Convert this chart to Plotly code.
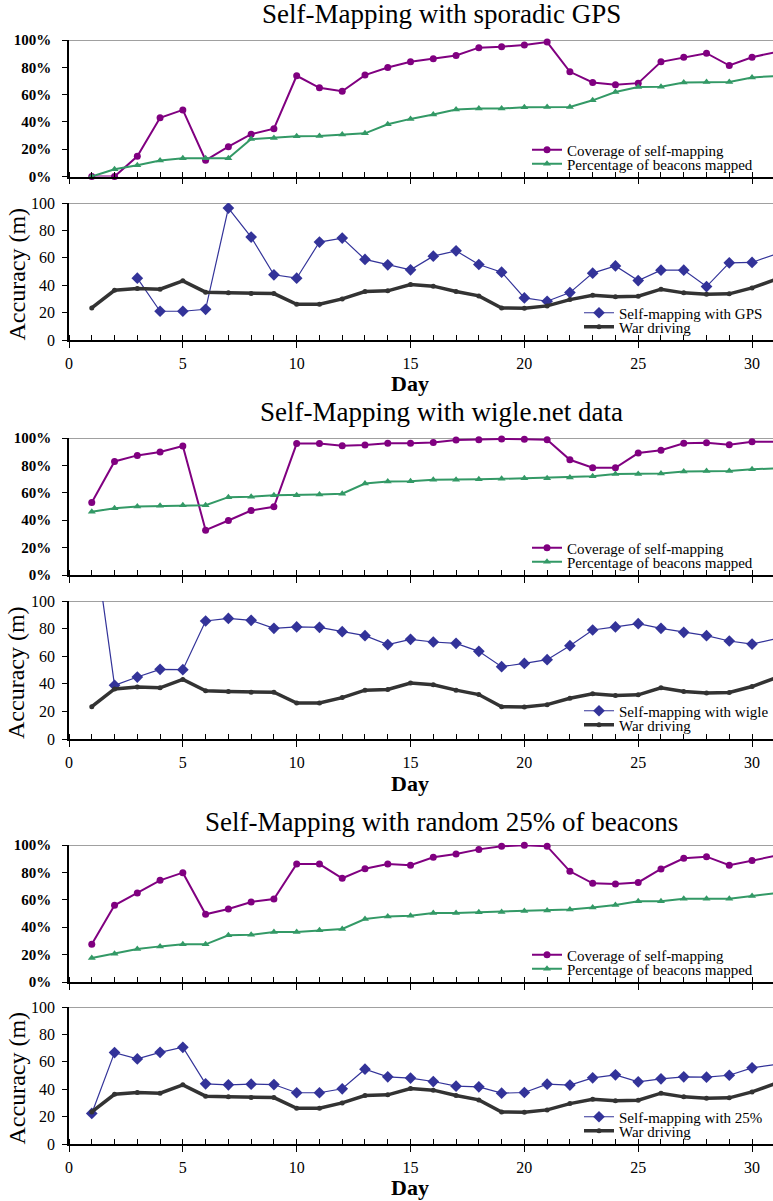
import plotly.graph_objects as go

days = list(range(1, 32))

gps_coverage = [0, 0, 14.8, 43, 48.8, 11.9, 21.8, 31, 35, 73.8, 65, 62.4, 74.3, 79.9, 84, 86.2,
                88.6, 94.4, 95.1, 96.4, 98.5, 76.7, 68.9, 67.2, 68.4, 84, 87.4, 90.3, 81.3, 87.4, 91]
gps_beacons = [0, 5.3, 8.3, 11.7, 13.3, 13.3, 13.3, 27.4, 28.2, 29.4, 29.6, 30.8, 31.6, 38.3, 42.2,
               45.4, 49, 49.8, 49.8, 50.7, 51, 51, 55.8, 61.9, 65.5, 65.8, 68.9, 69.2, 69.2, 72.6, 73.6]
gps_accuracy = [None, None, 45.1, 21, 21, 22.4, 96.3, 75.1, 47.6, 45.1, 71.5, 74.4, 58.8, 54.9, 51.2,
                61.2, 65.1, 55.1, 49.5, 30.7, 28.3, 34.6, 48.8, 54.1, 43.4, 51, 51, 39, 56.3, 56.6, 62.5]
war_driving = [23.4, 36.3, 37.6, 37.1, 43.2, 34.9, 34.4, 33.9, 33.9, 26.1, 26.1, 30, 35.4, 35.9, 40.5,
               39.3, 35.4, 32.2, 23.4, 23.2, 24.9, 29.5, 32.7, 31.5, 32, 37.1, 34.4, 33.4, 33.7, 38, 44]

wigle_coverage = [52.9, 82.9, 87.3, 89.8, 94.1, 32.7, 39.8, 47.1, 49.8, 95.9, 95.9, 94.4, 94.9, 96.1,
                  96.1, 96.8, 98.5, 98.8, 99.3, 99, 98.8, 84.1, 78.3, 78.3, 89, 91, 96.1, 96.6, 95.1, 97.3, 97.3]
wigle_beacons = [46.1, 48.8, 50, 50.5, 51, 51, 56.8, 57.1, 58.3, 58.3, 58.8, 59.3, 66.8, 68.3, 68.5,
                 69.5, 69.5, 69.8, 70.2, 70.7, 70.7, 71.2, 72, 73.7, 73.7, 74.1, 75.6, 75.9, 75.9, 77.1, 77.8]
wigle_accuracy = [158, 38.9, 44.9, 50.5, 50.2, 85.5, 87.4, 86, 80.2, 81.2, 80.9, 77.8, 74.9, 68.4, 72.2,
                  70.3, 69.3, 63.5, 52.4, 54.8, 57.5, 67.6, 79, 81.2, 83.6, 80.2, 77.3, 74.9, 71, 68.8, 72.5]

r25_coverage = [27.5, 56, 65, 74.2, 79.8, 49.4, 53.3, 58.4, 60.6, 86.1, 86.1, 75.7, 82.7, 86.1, 85.2,
                91, 93.4, 96.8, 99, 99.8, 99, 80.8, 72, 71.5, 72.7, 82.5, 90.3, 91.5, 85.2, 88.6, 92]
r25_beacons = [17.5, 20.7, 24.1, 26, 27.5, 27.5, 34.1, 34.5, 36.5, 36.5, 37.7, 38.7, 46, 47.9, 48.4,
               50.4, 50.4, 50.9, 51.1, 51.8, 52.1, 53, 54.3, 56.2, 58.9, 58.9, 60.8, 60.8, 60.8, 62.8, 64.7]
r25_accuracy = [22.3, 66.7, 62.1, 66.9, 70.6, 43.9, 43.2, 43.7, 43.4, 37.4, 37.4, 40.3, 54.6, 49, 48.1,
                45.6, 42.2, 41.7, 37.1, 37.6, 43.7, 43, 48.3, 50.5, 45.4, 47.6, 49, 48.8, 50.2, 55.6, 58]

titles = ["Self-Mapping with sporadic GPS", "Self-Mapping with wigle.net data",
          "Self-Mapping with random 25% of beacons"]
self_names = ["Self-mapping with GPS", "Self-mapping with wigle", "Self-mapping with 25%"]
coverages = [gps_coverage, wigle_coverage, r25_coverage]
beacons = [gps_beacons, wigle_beacons, r25_beacons]
accuracies = [gps_accuracy, wigle_accuracy, r25_accuracy]

x_ticks = [0, 5, 10, 15, 20, 25, 30]
y_ticks = [0, 20, 40, 60, 80, 100]
pct_labels = ["0%", "20%", "40%", "60%", "80%", "100%"]
acc_labels = ["0", "20", "40", "60", "80", "100"]

W, H = 773, 1201
FONT = "Liberation Serif, Times New Roman, serif"
PURPLE, GREEN, BLUE, DARK = "#800080", "#339966", "#333399", "#333333"

# window-pixel geometry (top, bottom) of the six plot areas
panels_px = [(40, 176.5), (203, 340), (438, 575), (601, 739), (845, 982), (1007, 1144)]
title_y_px = [14, 412, 822]
X_LEFT = 69


def fx(p):
    return p / W


def fy(p):
    return 1 - p / H


fig = go.Figure()
layout = dict(
    width=W, height=H, margin=dict(l=0, r=0, t=0, b=0, autoexpand=False),
    paper_bgcolor="white", plot_bgcolor="white",
    font=dict(family=FONT, color="black"),
    annotations=[], shapes=[],
)

legend_count = 0


def add_legend(xpx, ypx):
    global legend_count
    legend_count += 1
    key = "legend" if legend_count == 1 else f"legend{legend_count}"
    layout[key] = dict(x=fx(xpx), y=fy(ypx), xanchor="left", yanchor="middle",
                       bgcolor="rgba(0,0,0,0)", borderwidth=0,
                       font=dict(family=FONT, size=15, color="black"),
                       itemwidth=30)
    return key


for g in range(3):
    for sub in range(2):
        n = g * 2 + sub + 1
        top, bot = panels_px[n - 1]
        xa = "x" if n == 1 else f"x{n}"
        ya = "y" if n == 1 else f"y{n}"
        is_cov = sub == 0
        layout["xaxis" if n == 1 else f"xaxis{n}"] = dict(
            domain=[fx(X_LEFT), 1], anchor=ya, range=[0, 30.92],
            showline=True, linecolor="black", linewidth=1.5,
            tickmode="array", tickvals=x_ticks, ticks="outside", ticklen=6,
            tickwidth=1, tickcolor="black",
            showticklabels=not is_cov, tickfont=dict(size=16, family=FONT),
            ticklabelstandoff=2,
            minor=dict(tickmode="linear", tick0=0, dtick=1, ticks="inside",
                       ticklen=5, tickwidth=1, tickcolor="black", showgrid=False),
            showgrid=False, zeroline=False, fixedrange=True,
        )
        layout["yaxis" if n == 1 else f"yaxis{n}"] = dict(
            domain=[fy(bot), fy(top)], anchor=xa, range=[0, 100],
            showline=True, linecolor="black", linewidth=1.5,
            tickmode="array", tickvals=y_ticks,
            ticktext=pct_labels if is_cov else acc_labels,
            ticks="outside", ticklen=5, tickwidth=1, tickcolor="black",
            tickfont=dict(size=15 if is_cov else 16, family=FONT,
                          weight="bold" if is_cov else "normal"),
            ticklabelstandoff=8 if is_cov else 4,
            showgrid=False, zeroline=False, fixedrange=True,
        )
        # gray top border line at 100
        layout["shapes"].append(dict(type="line", xref=f"{xa} domain", x0=0, x1=1,
                                     yref=ya, y0=100, y1=100,
                                     line=dict(color="#a0a0a0", width=2), layer="below"))
        if is_cov:
            l1 = add_legend(527, top + 110)
            l2 = add_legend(527, top + 124)
            fig.add_trace(go.Scatter(
                x=days, y=coverages[g], name="Coverage of self-mapping", mode="lines+markers",
                line=dict(color=PURPLE, width=2), marker=dict(symbol="circle", size=7, color=PURPLE),
                xaxis=xa, yaxis=ya, legend=l1, cliponaxis=False))
            fig.add_trace(go.Scatter(
                x=days, y=beacons[g], name="Percentage of beacons mapped", mode="lines+markers",
                line=dict(color=GREEN, width=2), marker=dict(symbol="triangle-up", size=7, color=GREEN),
                xaxis=xa, yaxis=ya, legend=l2, cliponaxis=False))
        else:
            l1 = add_legend(579, top + 110)
            l2 = add_legend(579, top + 124)
            fig.add_trace(go.Scatter(
                x=days, y=accuracies[g], name=self_names[g], mode="lines+markers",
                line=dict(color=BLUE, width=1.2), marker=dict(symbol="diamond", size=9, color=BLUE),
                xaxis=xa, yaxis=ya, legend=l1, cliponaxis=True))
            fig.add_trace(go.Scatter(
                x=days, y=war_driving, name="War driving", mode="lines+markers",
                line=dict(color=DARK, width=3.5), marker=dict(symbol="circle", size=5, color=DARK),
                xaxis=xa, yaxis=ya, legend=l2, cliponaxis=False))
            layout["annotations"].append(dict(
                text="Accuracy (m)", textangle=-90, xref="paper", yref="paper",
                x=fx(16), y=fy((top + bot) / 2 + 3), showarrow=False,
                xanchor="center", yanchor="middle", font=dict(family=FONT, size=24)))
            if g < 2:
                day_pos = dict(y=fy(bot + 44), yanchor="middle")
            else:
                day_pos = dict(y=0, yanchor="bottom")
            layout["annotations"].append(dict(
                text="<b>Day</b>", xref="paper", yref="paper",
                x=fx(410), showarrow=False, borderpad=0,
                xanchor="center", font=dict(family=FONT, size=22), **day_pos))
    layout["annotations"].append(dict(
        text=titles[g], xref="paper", yref="paper", x=fx(441), y=fy(title_y_px[g]),
        showarrow=False, xanchor="center", yanchor="middle", borderpad=0,
        font=dict(family=FONT, size=27)))

fig.update_layout(**layout)
fig.update_layout(showlegend=True)
fig.write_html(
    "out.html",
    config={"displayModeBar": False},
    post_script="document.body.style.margin='0';document.body.style.padding='0';"
                "document.body.style.overflow='hidden';",
)
